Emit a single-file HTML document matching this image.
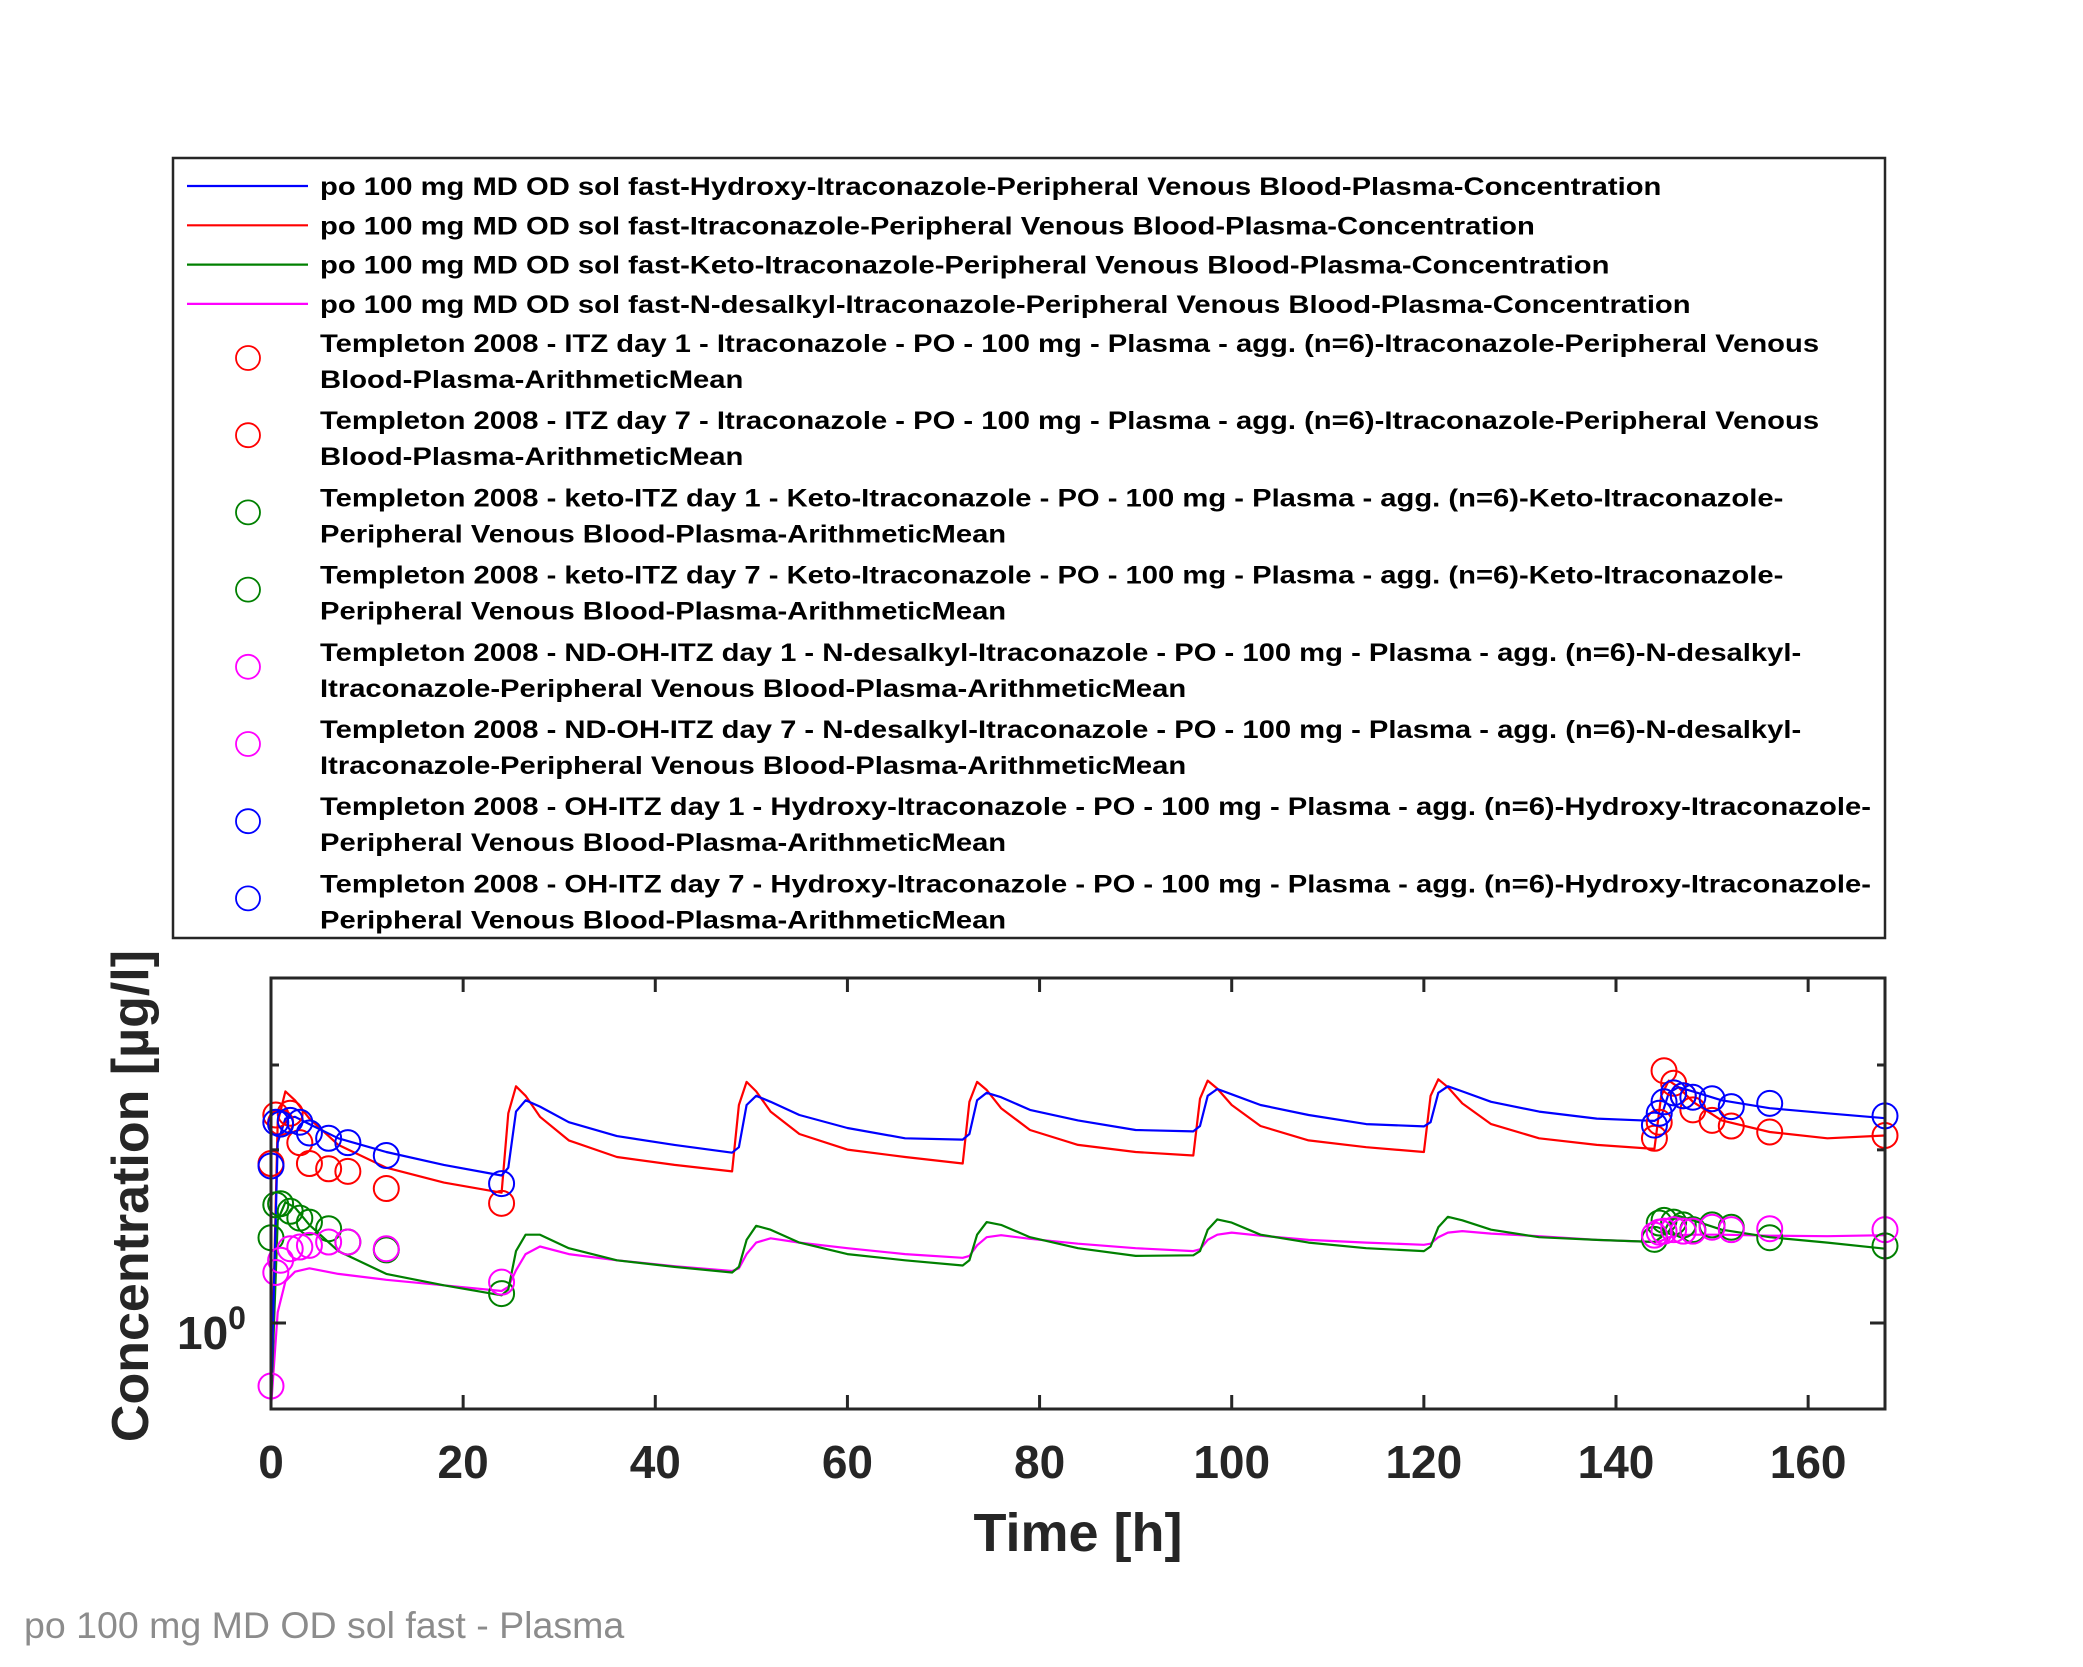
<!DOCTYPE html>
<html><head><meta charset="utf-8"><style>
html,body{margin:0;padding:0;background:#fff;}
svg{display:block;font-family:"Liberation Sans",Arial,sans-serif;}
</style></head><body>
<svg id="chart" width="2083" height="1667" viewBox="0 0 2083 1667" xmlns="http://www.w3.org/2000/svg">
<rect x="0" y="0" width="2083" height="1667" fill="#fff"/>
<g id="plot"></g>
<g id="legend"></g>
<text x="24" y="1638" font-size="37.5" fill="#8c8c8c">po 100 mg MD OD sol fast - Plasma</text>
</svg>
<script>
// ---- data ----
const dayOffsets = [0, 0.7, 1.5, 2.5, 4, 7, 12, 18];
const endTime = 168;
const blueSim = [0.5,5.0,6.2,6.3,5.9,5.2,4.6,4.1, 3.73,4.0,6.6,7.3,6.9,6.0,5.3,4.9, 4.57,4.8,7.0,7.6,7.2,6.4,5.7,5.2, 5.14,5.4,7.3,7.8,7.5,6.7,6.1,5.6, 5.53,5.8,7.6,8.07,7.7,7.0,6.4,5.9, 5.78,6.0,7.8,8.27,7.9,7.2,6.6,6.2, 6.07,6.3,7.8,8.2,7.9,7.3,6.8,6.5, 6.22];
const redSim = [0.5,6.0,7.9,7.3,6.2,4.9,4.0,3.5, 3.2,6.5,8.27,7.6,6.3,5.1,4.4,4.1, 3.87,7.0,8.6,7.9,6.6,5.4,4.7,4.4, 4.15,7.2,8.6,8.0,6.8,5.6,4.9,4.6, 4.46,7.4,8.7,8.1,7.0,5.8,5.1,4.8, 4.6,7.6,8.8,8.2,7.1,5.9,5.2,4.9, 4.73,7.6,8.7,8.2,7.2,6.1,5.5,5.2, 5.33];
const greenSim = [0.47,2.5,2.94,2.8,2.4,1.9,1.55,1.4, 1.28,1.35,1.9,2.2,2.2,1.95,1.75,1.65, 1.57,1.65,2.1,2.38,2.3,2.05,1.85,1.75, 1.67,1.75,2.2,2.46,2.4,2.15,1.95,1.82, 1.83,1.9,2.3,2.52,2.45,2.2,2.05,1.95, 1.9,1.98,2.35,2.58,2.5,2.3,2.15,2.1, 2.06,2.15,2.45,2.6,2.5,2.3,2.15,2.05, 1.94];
const magentaSim = [0.47,1.1,1.45,1.58,1.63,1.55,1.47,1.40, 1.33,1.38,1.6,1.85,1.98,1.85,1.75,1.66, 1.59,1.63,1.85,2.05,2.13,2.05,1.95,1.85, 1.79,1.82,2.0,2.15,2.19,2.12,2.03,1.95, 1.9,1.93,2.1,2.2,2.24,2.18,2.1,2.05, 2.01,2.03,2.15,2.24,2.27,2.22,2.17,2.1, 2.06,2.08,2.15,2.19,2.2,2.2,2.18,2.17, 2.19];

const obsDay1Times = [0, 0.5, 1, 2, 3, 4, 6, 8, 12, 24];
const obsDay7Times = [144, 144.5, 145, 146, 147, 148, 150, 152, 156, 168];
const redObs1 = [4.15, 6.4, 6.0, 6.5, 5.0, 4.15, 3.96, 3.87, 3.32, 2.91];
const redObs7 = [5.2, 6.0, 9.5, 8.5, 7.6, 6.7, 6.1, 5.8, 5.5, 5.33];
const greenObs1 = [2.14, 2.87, 2.9, 2.71, 2.55, 2.46, 2.32, 2.06, 1.92, 1.3];
const greenObs7 = [2.11, 2.44, 2.5, 2.46, 2.4, 2.3, 2.4, 2.35, 2.14, 1.99];
const magentaObs1 = [0.57, 1.57, 1.75, 1.94, 1.97, 2.0, 2.06, 2.06, 1.94, 1.44];
const magentaObs7 = [2.19, 2.25, 2.27, 2.3, 2.27, 2.27, 2.35, 2.3, 2.32, 2.3];
const blueObs1 = [4.06, 6.0, 5.9, 6.1, 6.0, 5.45, 5.2, 5.0, 4.46, 3.47];
const blueObs7 = [5.85, 6.5, 7.2, 7.8, 7.6, 7.5, 7.4, 6.9, 7.1, 6.35];

const xTicks = [0, 20, 40, 60, 80, 100, 120, 140, 160];
const yMinorTicks = [4.69, 10];
const yMajorTicks = [1];

// ---- axes ----
const L = 271, R = 1885, T = 978, B = 1409;
const X = t => L + t * (R - L) / 168;
const Y = v => 1323 - 258 * Math.log10(v);
const NS = "http://www.w3.org/2000/svg";
const plot = document.getElementById('plot');
function mk(tag, attrs, parent) {
  const e = document.createElementNS(NS, tag);
  for (const k in attrs) e.setAttribute(k, attrs[k]);
  parent.appendChild(e); return e;
}
const clip = mk('clipPath', {id: 'pc'}, plot);
mk('rect', {x: L, y: T, width: R - L, height: B - T}, clip);

const simTimes = [];
for (let d = 0; d < 7; d++) dayOffsets.forEach(o => simTimes.push(d * 24 + o));
simTimes.push(endTime);

const series = [
  {vals: magentaSim, color: '#ff00ff', name: 'nd-itz-sim-line'},
  {vals: greenSim, color: '#008000', name: 'keto-itz-sim-line'},
  {vals: redSim, color: '#ff0000', name: 'itz-sim-line'},
  {vals: blueSim, color: '#0000ff', name: 'oh-itz-sim-line'}
];
const lg = mk('g', {'clip-path': 'url(#pc)'}, plot);
series.forEach(s => {
  let d = '';
  s.vals.forEach((v, i) => { d += (i ? 'L' : 'M') + X(simTimes[i]).toFixed(1) + ',' + Y(v).toFixed(1); });
  const p = mk('path', {d: d, fill: 'none', stroke: s.color, 'stroke-width': 2.2, 'stroke-linejoin': 'round'}, lg);
  
  
});

const obs = [
  {t: obsDay1Times, v: redObs1, c: '#ff0000', n: 'itz-day1-points'},
  {t: obsDay7Times, v: redObs7, c: '#ff0000', n: 'itz-day7-points'},
  {t: obsDay1Times, v: greenObs1, c: '#008000', n: 'keto-itz-day1-points'},
  {t: obsDay7Times, v: greenObs7, c: '#008000', n: 'keto-itz-day7-points'},
  {t: obsDay1Times, v: magentaObs1, c: '#ff00ff', n: 'nd-itz-day1-points'},
  {t: obsDay7Times, v: magentaObs7, c: '#ff00ff', n: 'nd-itz-day7-points'},
  {t: obsDay1Times, v: blueObs1, c: '#0000ff', n: 'oh-itz-day1-points'},
  {t: obsDay7Times, v: blueObs7, c: '#0000ff', n: 'oh-itz-day7-points'}
];
obs.forEach(o => {
  const g = mk('g', {}, plot);
  
  
  o.v.forEach((v, i) => {
    const c = mk('circle', {cx: X(o.t[i]), cy: Y(v), r: 12.5, fill: 'none', stroke: o.c, 'stroke-width': 2}, g);
    
    
  });
});

// frame and ticks
const frame = mk('rect', {x: L, y: T, width: R - L, height: B - T, fill: 'none', stroke: '#262626', 'stroke-width': 3}, plot);


xTicks.forEach(t => {
  mk('line', {x1: X(t), x2: X(t), y1: B, y2: B - 14, stroke: '#262626', 'stroke-width': 3}, plot);
  mk('line', {x1: X(t), x2: X(t), y1: T, y2: T + 14, stroke: '#262626', 'stroke-width': 3}, plot);
  const tx = mk('text', {x: X(t), y: 1478, 'font-size': 46, 'font-weight': 'bold', fill: '#262626', 'text-anchor': 'middle'}, plot);
  tx.textContent = t;
  
  
});
yMinorTicks.forEach(v => {
  mk('line', {x1: L, x2: L + 8, y1: Y(v), y2: Y(v), stroke: '#262626', 'stroke-width': 3}, plot);
  mk('line', {x1: R, x2: R - 8, y1: Y(v), y2: Y(v), stroke: '#262626', 'stroke-width': 3}, plot);
});
yMajorTicks.forEach(v => {
  mk('line', {x1: L, x2: L + 15, y1: Y(v), y2: Y(v), stroke: '#262626', 'stroke-width': 3}, plot);
  mk('line', {x1: R, x2: R - 15, y1: Y(v), y2: Y(v), stroke: '#262626', 'stroke-width': 3}, plot);
  const tx = mk('text', {x: 177, y: Y(v) + 26, 'font-size': 46, 'font-weight': 'bold', fill: '#262626'}, plot);
  tx.innerHTML = '10<tspan dy="-20" font-size="32">' + Math.round(Math.log10(v)) + '</tspan>';
  
  
});
const xt = mk('text', {x: (L + R) / 2, y: 1551, 'font-size': 54, 'font-weight': 'bold', fill: '#262626', 'text-anchor': 'middle'}, plot);
xt.textContent = 'Time [h]';


const yt = mk('text', {x: 0, y: 0, 'font-size': 52, 'font-weight': 'bold', fill: '#262626', 'text-anchor': 'middle', transform: 'translate(148,1196) rotate(-90)'}, plot);
yt.textContent = 'Concentration [µg/l]';



// ---- legend ----
const legend = document.getElementById('legend');
mk('rect', {x: 173, y: 158, width: 1712, height: 780, fill: '#fff', stroke: '#262626', 'stroke-width': 2.5}, legend);
const lineEntries = [
  ['#0000ff', 'po 100 mg MD OD sol fast-Hydroxy-Itraconazole-Peripheral Venous Blood-Plasma-Concentration'],
  ['#ff0000', 'po 100 mg MD OD sol fast-Itraconazole-Peripheral Venous Blood-Plasma-Concentration'],
  ['#008000', 'po 100 mg MD OD sol fast-Keto-Itraconazole-Peripheral Venous Blood-Plasma-Concentration'],
  ['#ff00ff', 'po 100 mg MD OD sol fast-N-desalkyl-Itraconazole-Peripheral Venous Blood-Plasma-Concentration']
];
const markerEntries = [
  ['#ff0000', 'Templeton 2008 - ITZ day 1 - Itraconazole - PO - 100 mg - Plasma - agg. (n=6)-Itraconazole-Peripheral Venous', 'Blood-Plasma-ArithmeticMean'],
  ['#ff0000', 'Templeton 2008 - ITZ day 7 - Itraconazole - PO - 100 mg - Plasma - agg. (n=6)-Itraconazole-Peripheral Venous', 'Blood-Plasma-ArithmeticMean'],
  ['#008000', 'Templeton 2008 - keto-ITZ day 1 - Keto-Itraconazole - PO - 100 mg - Plasma - agg. (n=6)-Keto-Itraconazole-', 'Peripheral Venous Blood-Plasma-ArithmeticMean'],
  ['#008000', 'Templeton 2008 - keto-ITZ day 7 - Keto-Itraconazole - PO - 100 mg - Plasma - agg. (n=6)-Keto-Itraconazole-', 'Peripheral Venous Blood-Plasma-ArithmeticMean'],
  ['#ff00ff', 'Templeton 2008 - ND-OH-ITZ day 1 - N-desalkyl-Itraconazole - PO - 100 mg - Plasma - agg. (n=6)-N-desalkyl-', 'Itraconazole-Peripheral Venous Blood-Plasma-ArithmeticMean'],
  ['#ff00ff', 'Templeton 2008 - ND-OH-ITZ day 7 - N-desalkyl-Itraconazole - PO - 100 mg - Plasma - agg. (n=6)-N-desalkyl-', 'Itraconazole-Peripheral Venous Blood-Plasma-ArithmeticMean'],
  ['#0000ff', 'Templeton 2008 - OH-ITZ day 1 - Hydroxy-Itraconazole - PO - 100 mg - Plasma - agg. (n=6)-Hydroxy-Itraconazole-', 'Peripheral Venous Blood-Plasma-ArithmeticMean'],
  ['#0000ff', 'Templeton 2008 - OH-ITZ day 7 - Hydroxy-Itraconazole - PO - 100 mg - Plasma - agg. (n=6)-Hydroxy-Itraconazole-', 'Peripheral Venous Blood-Plasma-ArithmeticMean']
];
const FS = 25;
const SX = 1.168;
function legText(g, str, y) {
  const t = mk('text', {x: 0, y: 0, 'font-size': FS, 'font-weight': 'bold', fill: '#000', transform: 'translate(320,' + y + ') scale(' + SX + ',1)'}, g);
  t.textContent = str;
}
lineEntries.forEach((e, i) => {
  const y = 186 + i * 39.3;
  const g = mk('g', {}, legend);
  
  
  mk('line', {x1: 187, x2: 308, y1: y, y2: y, stroke: e[0], 'stroke-width': 2.2}, g);
  legText(g, e[1], y + 9);
});
markerEntries.forEach((e, i) => {
  const y1 = 343 + i * 77.2;
  const g = mk('g', {}, legend);
  
  
  mk('circle', {cx: 248, cy: y1 + 15, r: 12, fill: 'none', stroke: e[0], 'stroke-width': 1.8}, g);
  legText(g, e[1], y1 + 9);
  legText(g, e[2], y1 + 45);
});
</script>
</body></html>
